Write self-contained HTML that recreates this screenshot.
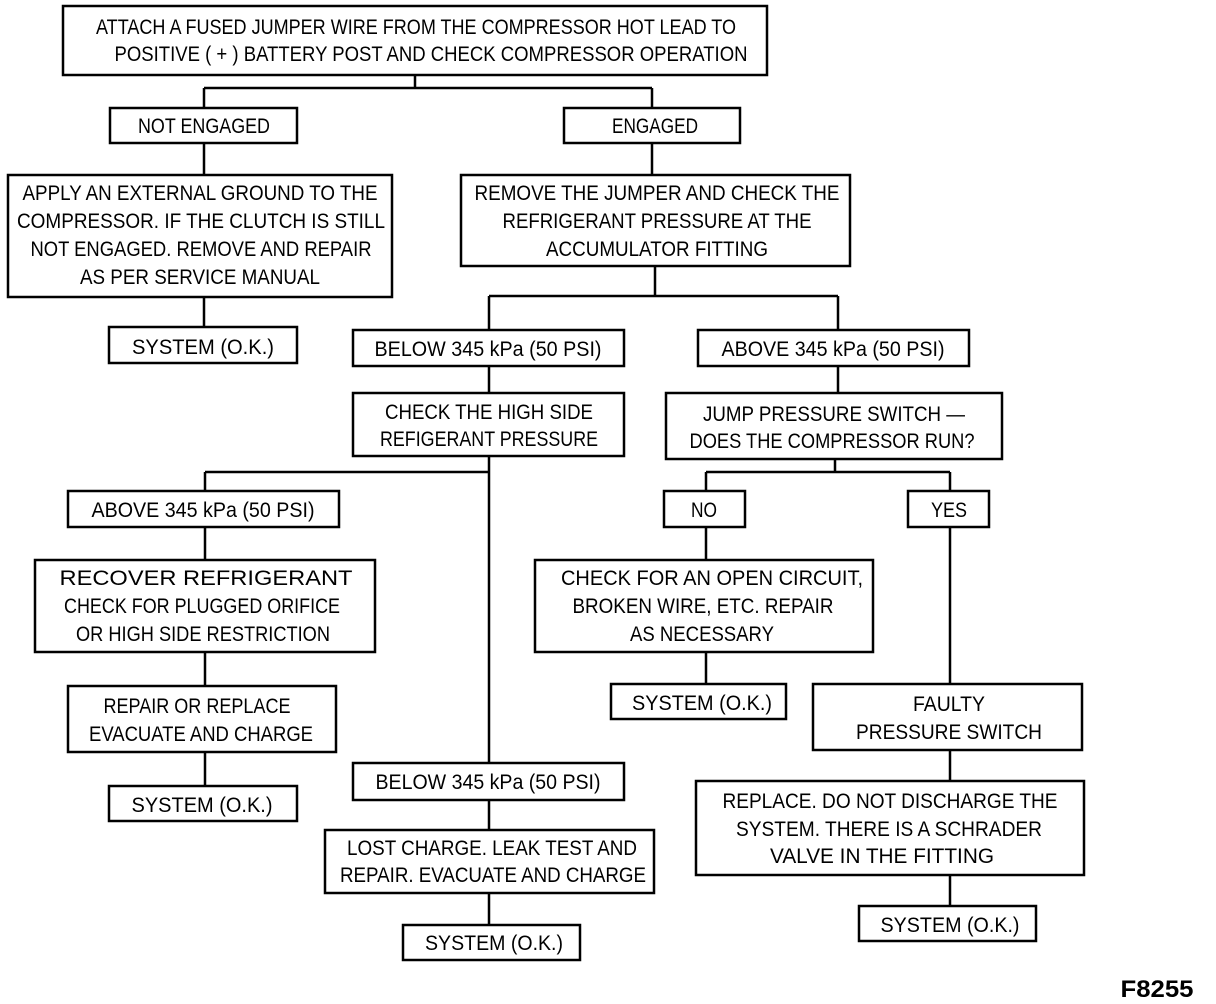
<!DOCTYPE html>
<html><head><meta charset="utf-8"><style>
html,body{margin:0;padding:0;background:#fff}
svg{display:block}
text{font-family:"Liberation Sans",sans-serif;font-size:21px;fill:#000}
</style></head><body>
<svg width="1216" height="1004" viewBox="0 0 1216 1004" xmlns="http://www.w3.org/2000/svg">
<g fill="none" stroke="#000" stroke-width="2.5">
<rect x="63" y="6" width="704" height="69"/>
<rect x="110" y="108" width="187" height="35"/>
<rect x="564" y="108" width="176" height="35"/>
<rect x="8" y="175" width="384" height="122"/>
<rect x="461" y="175" width="389" height="91"/>
<rect x="109" y="327" width="188" height="36"/>
<rect x="353" y="330" width="271" height="36"/>
<rect x="698" y="330" width="271" height="36"/>
<rect x="353" y="393" width="271" height="63"/>
<rect x="666" y="393" width="336" height="66"/>
<rect x="68" y="491" width="271" height="36"/>
<rect x="664" y="491" width="81" height="36"/>
<rect x="908" y="491" width="81" height="36"/>
<rect x="35" y="560" width="340" height="92"/>
<rect x="535" y="560" width="338" height="92"/>
<rect x="611" y="684" width="175" height="35"/>
<rect x="68" y="686" width="268" height="66"/>
<rect x="813" y="684" width="269" height="66"/>
<rect x="353" y="763" width="271" height="37"/>
<rect x="109" y="786" width="188" height="35"/>
<rect x="696" y="781" width="388" height="94"/>
<rect x="325" y="830" width="329" height="63"/>
<rect x="859" y="906" width="177" height="35"/>
<rect x="403" y="925" width="177" height="35"/>
<path d="M415 75V88M204 88H652M204 88V108M652 88V108M204 143V175M204 297V327M652 143V175M655 266V296M489 296H838M489 296V330M838 296V330M489 366V393M838 366V393M489 456V763M205 472H489M205 472V491M835 459V472M706 472H950M706 472V491M950 472V491M205 527V560M706 527V560M706 652V684M205 652V686M205 752V786M950 527V684M950 750V781M950 875V906M489 800V830M489 893V925"/>
</g>
<g text-anchor="middle" lengthAdjust="spacingAndGlyphs">
<text x="416" y="34" textLength="640" lengthAdjust="spacingAndGlyphs">ATTACH A FUSED JUMPER WIRE FROM THE COMPRESSOR HOT LEAD TO</text>
<text x="431" y="61" textLength="633" lengthAdjust="spacingAndGlyphs">POSITIVE ( + ) BATTERY POST AND CHECK COMPRESSOR OPERATION</text>
<text x="204" y="133" textLength="132" lengthAdjust="spacingAndGlyphs">NOT ENGAGED</text>
<text x="655" y="133" textLength="86" lengthAdjust="spacingAndGlyphs">ENGAGED</text>
<text x="200" y="200" textLength="355" lengthAdjust="spacingAndGlyphs">APPLY AN EXTERNAL GROUND TO THE</text>
<text x="201" y="228" textLength="368" lengthAdjust="spacingAndGlyphs">COMPRESSOR. IF THE CLUTCH IS STILL</text>
<text x="201" y="256" textLength="341" lengthAdjust="spacingAndGlyphs">NOT ENGAGED. REMOVE AND REPAIR</text>
<text x="200" y="284" textLength="240" lengthAdjust="spacingAndGlyphs">AS PER SERVICE MANUAL</text>
<text x="657" y="200" textLength="365" lengthAdjust="spacingAndGlyphs">REMOVE THE JUMPER AND CHECK THE</text>
<text x="657" y="228" textLength="309" lengthAdjust="spacingAndGlyphs">REFRIGERANT PRESSURE AT THE</text>
<text x="657" y="256" textLength="222" lengthAdjust="spacingAndGlyphs">ACCUMULATOR FITTING</text>
<text x="203" y="354" textLength="142" lengthAdjust="spacingAndGlyphs">SYSTEM (O.K.)</text>
<text x="488" y="356" textLength="227" lengthAdjust="spacingAndGlyphs">BELOW 345 kPa (50 PSI)</text>
<text x="833" y="356" textLength="223" lengthAdjust="spacingAndGlyphs">ABOVE 345 kPa (50 PSI)</text>
<text x="489" y="419" textLength="208" lengthAdjust="spacingAndGlyphs">CHECK THE HIGH SIDE</text>
<text x="489" y="446" textLength="218" lengthAdjust="spacingAndGlyphs">REFIGERANT PRESSURE</text>
<text x="834" y="421" textLength="262" lengthAdjust="spacingAndGlyphs">JUMP PRESSURE SWITCH —</text>
<text x="832" y="448" textLength="285" lengthAdjust="spacingAndGlyphs">DOES THE COMPRESSOR RUN?</text>
<text x="203" y="517" textLength="223" lengthAdjust="spacingAndGlyphs">ABOVE 345 kPa (50 PSI)</text>
<text x="704" y="517" textLength="26" lengthAdjust="spacingAndGlyphs">NO</text>
<text x="949" y="517" textLength="36" lengthAdjust="spacingAndGlyphs">YES</text>
<text x="206" y="585" textLength="293" lengthAdjust="spacingAndGlyphs">RECOVER REFRIGERANT</text>
<text x="202" y="613" textLength="276" lengthAdjust="spacingAndGlyphs">CHECK FOR PLUGGED ORIFICE</text>
<text x="203" y="641" textLength="254" lengthAdjust="spacingAndGlyphs">OR HIGH SIDE RESTRICTION</text>
<text x="712" y="585" textLength="302" lengthAdjust="spacingAndGlyphs">CHECK FOR AN OPEN CIRCUIT,</text>
<text x="703" y="613" textLength="261" lengthAdjust="spacingAndGlyphs">BROKEN WIRE, ETC. REPAIR</text>
<text x="702" y="641" textLength="144" lengthAdjust="spacingAndGlyphs">AS NECESSARY</text>
<text x="702" y="710" textLength="140" lengthAdjust="spacingAndGlyphs">SYSTEM (O.K.)</text>
<text x="197" y="713" textLength="187" lengthAdjust="spacingAndGlyphs">REPAIR OR REPLACE</text>
<text x="201" y="741" textLength="224" lengthAdjust="spacingAndGlyphs">EVACUATE AND CHARGE</text>
<text x="949" y="711" textLength="72" lengthAdjust="spacingAndGlyphs">FAULTY</text>
<text x="949" y="739" textLength="186" lengthAdjust="spacingAndGlyphs">PRESSURE SWITCH</text>
<text x="488" y="789" textLength="225" lengthAdjust="spacingAndGlyphs">BELOW 345 kPa (50 PSI)</text>
<text x="202" y="812" textLength="141" lengthAdjust="spacingAndGlyphs">SYSTEM (O.K.)</text>
<text x="890" y="808" textLength="335" lengthAdjust="spacingAndGlyphs">REPLACE.   DO NOT DISCHARGE THE</text>
<text x="889" y="836" textLength="306" lengthAdjust="spacingAndGlyphs">SYSTEM. THERE IS A SCHRADER</text>
<text x="882" y="863" textLength="224" lengthAdjust="spacingAndGlyphs">VALVE IN THE FITTING</text>
<text x="492" y="855" textLength="290" lengthAdjust="spacingAndGlyphs">LOST CHARGE. LEAK TEST AND</text>
<text x="493" y="882" textLength="306" lengthAdjust="spacingAndGlyphs">REPAIR. EVACUATE AND CHARGE</text>
<text x="950" y="932" textLength="139" lengthAdjust="spacingAndGlyphs">SYSTEM (O.K.)</text>
<text x="494" y="950" textLength="138" lengthAdjust="spacingAndGlyphs">SYSTEM (O.K.)</text>
<text x="1157" y="997" textLength="73" lengthAdjust="spacingAndGlyphs" style="font-weight:bold;font-size:24px">F8255</text>
</g>
</svg>
</body></html>
